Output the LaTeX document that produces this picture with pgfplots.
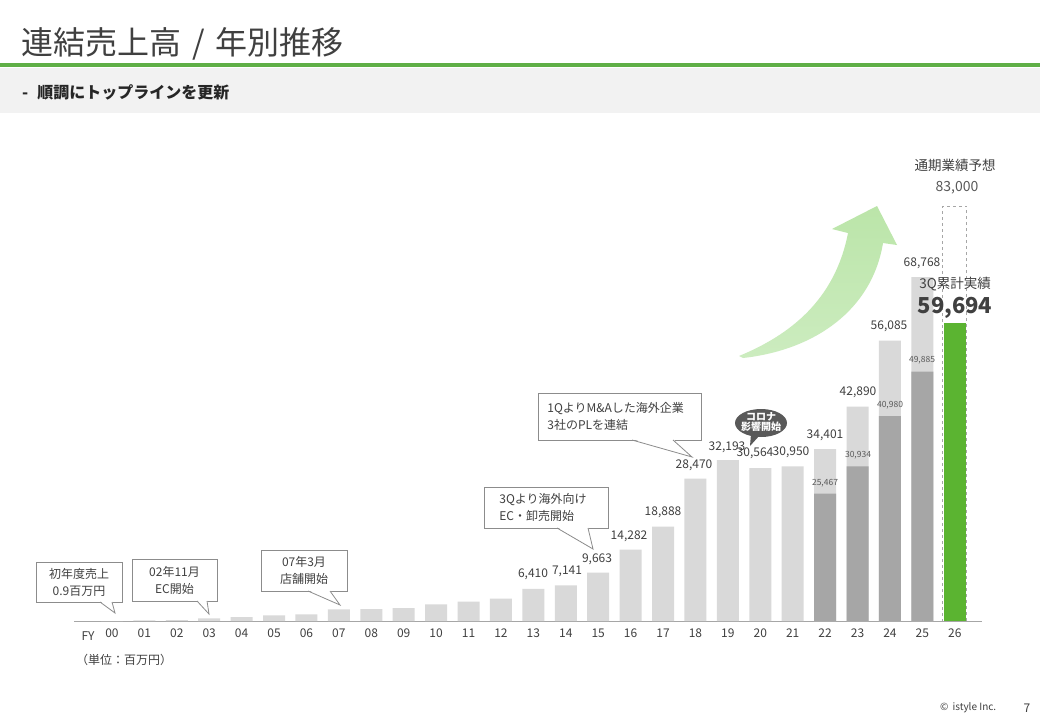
\documentclass[border=0pt]{standalone}
\usepackage{fontspec}
\setmainfont{Noto Sans CJK JP}
\usepackage{pgfplots}
\usepackage{pgfplotstable}
\pgfplotsset{compat=1.18}
\definecolor{lightbar}{HTML}{D9D9D9}
\definecolor{darkbar}{HTML}{A6A6A6}
\definecolor{greenbar}{HTML}{5BB431}
\definecolor{titlegreen}{HTML}{5FAF46}
\definecolor{band}{HTML}{F2F2F2}
\definecolor{txt}{HTML}{404040}
\definecolor{inner}{HTML}{595959}
\definecolor{boxline}{HTML}{8C8C8C}
\definecolor{corona}{HTML}{595959}
\definecolor{arrowtop}{HTML}{BBE5A9}
\definecolor{arrowbot}{HTML}{CCECBF}
\newcommand{\fs}[2]{\fontsize{#1pt}{#2pt}\selectfont}

\pgfplotstableread{
x y
0 0.9
1 150
2 200
3 540
4 800
5 1130
6 1330
7 2330
8 2370
9 2560
10 3330
11 3900
12 4480
13 6410
14 7141
15 9663
16 14282
17 18888
18 28470
19 32193
20 30564
21 30950
22 34401
23 42890
24 56085
25 68768
}\lightdata
\pgfplotstableread{
x y
22 25467
23 30934
24 40980
25 49885
}\darkdata
\pgfplotstableread{
x y
26 59694
}\greendata
\pgfplotstableread{
x y
26 83000
}\forecastdata

\begin{document}
\begin{tikzpicture}
% canvas
\fill[white] (0pt,0pt) rectangle (1040pt,-720pt);
% header
\fill[band] (0pt,-68pt) rectangle (1040pt,-113pt);
\fill[titlegreen] (0pt,-63pt) rectangle (1040pt,-67pt);
\node[anchor=west, text=txt, inner sep=0pt, font=\fs{32}{36}] at (21pt,-44pt) {連結売上高\hspace{11pt}/\hspace{11pt}年別推移};
\node[anchor=west, text=black!85, inner sep=0pt, font=\fs{16}{18}\bfseries] at (22pt,-92pt) {-\hspace{9pt}順調にトップラインを更新};

% arrow
\shade[top color=arrowtop, bottom color=arrowbot]
  (739pt,-356pt) .. controls (790pt,-335pt) and (835pt,-300pt) .. (848pt,-233pt)
  -- (832pt,-229pt) -- (877pt,-206pt) -- (897pt,-245pt) -- (883pt,-243pt)
  .. controls (872pt,-310pt) and (815pt,-350pt) .. (743pt,-358pt) -- cycle;

\begin{axis}[
  at={(74pt,-621pt)}, anchor=south west,
  scale only axis, width=908pt, height=500pt,
  xmin=-1.17, xmax=26.84, ymin=0, ymax=100000,
  axis x line=bottom, axis y line=none,
  axis line style={draw=darkbar, line width=0.9pt, -},
  every outer x axis line/.append style={-},
  xtick={0,...,26},
  xticklabels={00,01,02,03,04,05,06,07,08,09,10,11,12,13,14,15,16,17,18,19,20,21,22,23,24,25,26},
  major tick length=0pt,
  xticklabel style={font=\fs{12}{14}, text=txt, yshift=-4pt},
  clip=false,
]
\addplot[ybar, bar width=22pt, bar shift=0pt, fill=lightbar, draw=none] table[x=x,y=y]{\lightdata};
\addplot[ybar, bar width=22pt, bar shift=0pt, fill=darkbar, draw=none] table[x=x,y=y]{\darkdata};
\addplot[ybar, bar width=24pt, bar shift=0pt, fill=none, draw=darkbar, dashed, line width=0.7pt] table[x=x,y=y]{\forecastdata};
\addplot[ybar, bar width=22pt, bar shift=0pt, fill=greenbar, draw=none] table[x=x,y=y]{\greendata};
\end{axis}

% axis extras
\node[text=txt, inner sep=0pt, font=\fs{12}{14}] at (88pt,-636pt) {FY};
\node[anchor=west, text=txt, inner sep=0pt, font=\fs{12}{14}] at (76pt,-660pt) {（単位：百万円）};

% bar value labels
\begin{scope}[every node/.style={text=txt, inner sep=0pt, font=\fs{12}{14}}]
\node at (533pt,-574pt) {6,410};
\node at (567pt,-571pt) {7,141};
\node at (597pt,-559pt) {9,663};
\node at (629pt,-536pt) {14,282};
\node at (663pt,-512pt) {18,888};
\node at (694pt,-465pt) {28,470};
\node at (727pt,-447pt) {32,193};
\node at (755pt,-453pt) {30,564};
\node at (791pt,-452pt) {30,950};
\node at (825pt,-435pt) {34,401};
\node at (858pt,-392pt) {42,890};
\node at (889pt,-326pt) {56,085};
\node at (922pt,-263pt) {68,768};
\end{scope}
\begin{scope}[every node/.style={text=inner, inner sep=0pt, font=\fs{8.5}{10}}]
\node at (825pt,-483pt) {25,467};
\node at (858pt,-455pt) {30,934};
\node at (890pt,-405pt) {40,980};
\node at (922pt,-360pt) {49,885};
\end{scope}

% right annotations
\node[text=txt, inner sep=0pt, font=\fs{13.5}{16}] at (955pt,-165pt) {通期業績予想};
\node[text=inner, inner sep=0pt, font=\fs{14}{16}] at (957pt,-188pt) {83,000};
\node[text=txt, inner sep=0pt, font=\fs{13.5}{16}] at (955pt,-284pt) {3Q累計実績};
\node[text=txt, inner sep=0pt, font=\fs{22}{24}\bfseries] at (955pt,-308pt) {59,694};

% callouts
\begin{scope}[boxline, line width=0.8pt]
% 1
\filldraw[fill=white] (36pt,-562pt) rectangle (122pt,-602pt);
\fill[white] (100pt,-601pt) -- (115pt,-613pt) -- (112pt,-601pt) -- cycle;
\draw (100pt,-602pt) -- (115pt,-613pt) -- (112pt,-602pt);
\node[text=txt, align=center, inner sep=0pt, font=\fs{12}{17}] at (79pt,-582pt) {初年度売上\\0.9百万円};
% 2
\filldraw[fill=white] (132pt,-559pt) rectangle (217pt,-601pt);
\fill[white] (197pt,-600pt) -- (209pt,-614pt) -- (207pt,-600pt) -- cycle;
\draw (197pt,-601pt) -- (209pt,-614pt) -- (207pt,-601pt);
\node[text=txt, align=center, inner sep=0pt, font=\fs{12}{17}] at (174.5pt,-580pt) {02年11月\\EC開始};
% 3
\filldraw[fill=white] (261pt,-550pt) rectangle (347pt,-591pt);
\fill[white] (308pt,-590pt) -- (340pt,-605pt) -- (330pt,-590pt) -- cycle;
\draw (308pt,-591pt) -- (340pt,-605pt) -- (330pt,-591pt);
\node[text=txt, align=center, inner sep=0pt, font=\fs{12}{17}] at (304pt,-570.5pt) {07年3月\\店舗開始};
% 4
\filldraw[fill=white] (484pt,-487pt) rectangle (608pt,-528pt);
\fill[white] (557pt,-527pt) -- (593pt,-549pt) -- (588pt,-527pt) -- cycle;
\draw (557pt,-528pt) -- (593pt,-549pt) -- (588pt,-528pt);
\node[text=txt, align=left, anchor=west, inner sep=0pt, font=\fs{12}{17}] at (499pt,-507.5pt) {3Qより海外向け\\EC・卸売開始};
% 5
\filldraw[fill=white] (538pt,-393pt) rectangle (701pt,-440pt);
\fill[white] (632pt,-439pt) -- (692pt,-457pt) -- (673pt,-439pt) -- cycle;
\draw (632pt,-440pt) -- (692pt,-457pt) -- (673pt,-440pt);
\node[text=txt, align=left, anchor=west, inner sep=0pt, font=\fs{12}{17}] at (547pt,-416.5pt) {1QよりM\&Aした海外企業\\3社のPLを連結};
\end{scope}

% corona bubble
\fill[corona] (761pt,-423pt) ellipse [x radius=26pt, y radius=14pt];
\fill[corona] (751pt,-434pt) -- (750pt,-446pt) -- (760pt,-435pt) -- cycle;
\node[text=white, align=center, inner sep=0pt, font=\fs{10}{10.5}\bfseries] at (761pt,-422pt) {コロナ\\影響開始};

% footer
\node[text=txt, anchor=west, inner sep=0pt, font=\fs{10}{12}] at (940pt,-708pt) {©\hspace{4pt}istyle Inc.};
\node[text=txt, inner sep=0pt, font=\fs{12}{14}] at (1027pt,-708pt) {7};
\end{tikzpicture}
\end{document}
